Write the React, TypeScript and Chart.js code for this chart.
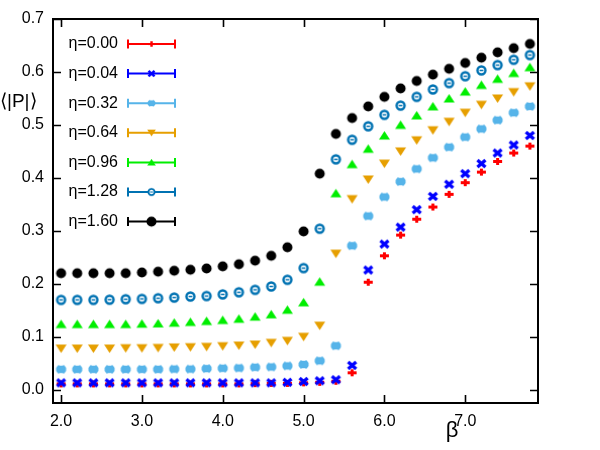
import React, { useEffect, useRef } from "react";
import { Chart, registerables } from "chart.js";

Chart.register(...registerables);

// Inverse temperature grid
const beta = [
  2.0, 2.2, 2.4, 2.6, 2.8, 3.0, 3.2, 3.4, 3.6, 3.8, 4.0, 4.2, 4.4, 4.6, 4.8,
  5.0, 5.2, 5.4, 5.6, 5.8, 6.0, 6.2, 6.4, 6.6, 6.8, 7.0, 7.2, 7.4, 7.6, 7.8,
];

// <|P|> for each eta
const eta000 = [
  0.011, 0.011, 0.011, 0.011, 0.011, 0.011, 0.011, 0.011, 0.011, 0.011, 0.011, 0.011, 0.0115, 0.012, 0.012,
  0.013, 0.014, 0.016, 0.032, 0.203, 0.253, 0.292, 0.322, 0.345, 0.369, 0.391, 0.411, 0.431, 0.447, 0.46,
];
const eta004 = [
  0.013, 0.013, 0.013, 0.013, 0.013, 0.013, 0.013, 0.013, 0.013, 0.013, 0.013, 0.013, 0.013, 0.013, 0.014,
  0.0155, 0.017, 0.019, 0.046, 0.226, 0.275, 0.307, 0.34, 0.365, 0.388, 0.408, 0.427, 0.447, 0.462, 0.48,
];
const eta032 = [
  0.0386, 0.0386, 0.0386, 0.0386, 0.0386, 0.0386, 0.0386, 0.039, 0.039, 0.04, 0.0405, 0.041, 0.0424, 0.043, 0.045,
  0.0478, 0.0547, 0.083, 0.272, 0.328, 0.364, 0.393, 0.417, 0.438, 0.458, 0.477, 0.4925, 0.509, 0.523, 0.535,
];
const eta064 = [
  0.0778, 0.0778, 0.0778, 0.0778, 0.0785, 0.0785, 0.079, 0.08, 0.0804, 0.081, 0.0823, 0.0835, 0.0854, 0.0886, 0.0924,
  0.1, 0.121, 0.257, 0.36, 0.397, 0.427, 0.45, 0.471, 0.49, 0.506, 0.523, 0.538, 0.55, 0.562, 0.573,
];
const eta096 = [
  0.124, 0.124, 0.124, 0.124, 0.124, 0.1247, 0.1253, 0.1266, 0.128, 0.1297, 0.1316, 0.134, 0.138, 0.1424, 0.151,
  0.165, 0.204, 0.371, 0.426, 0.455, 0.48, 0.5, 0.518, 0.535, 0.55, 0.563, 0.5755, 0.587, 0.598, 0.609,
];
const eta128 = [
  0.1696, 0.1696, 0.1696, 0.17, 0.171, 0.1715, 0.1728, 0.174, 0.176, 0.177, 0.18, 0.184, 0.1886, 0.195, 0.2076,
  0.2297, 0.304, 0.435, 0.472, 0.4975, 0.519, 0.5365, 0.553, 0.567, 0.579, 0.592, 0.603, 0.613, 0.623, 0.632,
];
const eta160 = [
  0.22, 0.22, 0.22, 0.22, 0.22, 0.2215, 0.223, 0.2247, 0.2266, 0.229, 0.233, 0.237, 0.2437, 0.253, 0.269,
  0.299, 0.408, 0.483, 0.513, 0.535, 0.553, 0.569, 0.583, 0.595, 0.606, 0.617, 0.627, 0.637, 0.645, 0.653,
];

const seriesLabels = ["η=0.00", "η=0.04", "η=0.32", "η=0.64", "η=0.96", "η=1.28", "η=1.60"];
const seriesValues = [eta000, eta004, eta032, eta064, eta096, eta128, eta160];
const seriesColors = ["#ff0000", "#0000ff", "#56b4e9", "#e69f00", "#00ee00", "#0072b2", "#000000"];
const seriesMarkers = ["plus", "cross", "star", "triDown", "triUp", "ring", "dot"];

const xTicks = [2, 3, 4, 5, 6, 7];
const yTicks = [0, 0.1, 0.2, 0.3, 0.4, 0.5, 0.6, 0.7];

const FONT = "'Liberation Sans', Arial, sans-serif";

function makeMarker(kind: string, color: string): HTMLCanvasElement {
  const c = document.createElement("canvas");
  c.width = 13;
  c.height = 13;
  const ctx = c.getContext("2d")!;
  ctx.strokeStyle = color;
  ctx.fillStyle = color;
  ctx.lineCap = "butt";
  const line = (x1: number, y1: number, x2: number, y2: number) => {
    ctx.beginPath();
    ctx.moveTo(x1, y1);
    ctx.lineTo(x2, y2);
    ctx.stroke();
  };
  switch (kind) {
    case "plus":
      ctx.lineWidth = 3;
      line(2, 6.5, 11, 6.5);
      line(6.5, 3, 6.5, 10);
      break;
    case "cross":
      ctx.lineWidth = 3.4;
      line(2.5, 3, 10.5, 10);
      line(2.5, 10, 10.5, 3);
      ctx.lineWidth = 2.5;
      line(4.5, 6.5, 8.5, 6.5);
      break;
    case "star":
      ctx.lineWidth = 3.4;
      line(1.5, 6.5, 11.5, 6.5);
      line(2.8, 3.3, 10.2, 9.7);
      line(2.8, 9.7, 10.2, 3.3);
      line(6.5, 2.8, 6.5, 10.2);
      ctx.beginPath();
      ctx.ellipse(6.5, 6.5, 4, 3, 0, 0, Math.PI * 2);
      ctx.fill();
      break;
    case "triDown":
      ctx.beginPath();
      ctx.moveTo(1, 2.5);
      ctx.lineTo(12, 2.5);
      ctx.lineTo(6.5, 11);
      ctx.closePath();
      ctx.fill();
      break;
    case "triUp":
      ctx.beginPath();
      ctx.moveTo(1, 10.5);
      ctx.lineTo(12, 10.5);
      ctx.lineTo(6.5, 2);
      ctx.closePath();
      ctx.fill();
      break;
    case "ring":
      ctx.fillStyle = "#ffffff";
      ctx.lineWidth = 2.4;
      ctx.beginPath();
      ctx.arc(6.5, 6.5, 4, 0, Math.PI * 2);
      ctx.fill();
      ctx.stroke();
      ctx.lineWidth = 1.5;
      line(4.6, 6.5, 8.4, 6.5);
      break;
    default:
      ctx.beginPath();
      ctx.arc(6.5, 6.5, 5, 0, Math.PI * 2);
      ctx.fill();
  }
  return c;
}

export default function App() {
  const canvasRef = useRef<HTMLCanvasElement | null>(null);

  useEffect(() => {
    const canvas = canvasRef.current;
    if (!canvas) return;
    const markers = seriesMarkers.map((m, i) => makeMarker(m, seriesColors[i]));

    const frame = {
      id: "frameAndLabels",
      afterDraw(chart: any) {
        const ctx = chart.ctx as CanvasRenderingContext2D;
        const { left, right, top, bottom } = chart.chartArea;
        const xs = chart.scales.x;
        const ys = chart.scales.y;
        ctx.save();
        ctx.strokeStyle = "#000";
        ctx.lineWidth = 2;
        ctx.strokeRect(left, top, right - left, bottom - top);
        ctx.lineWidth = 1.6;
        const tl = 8;
        ctx.beginPath();
        for (const v of xTicks) {
          const px = Math.round(xs.getPixelForValue(v)) + 0.5;
          ctx.moveTo(px, bottom);
          ctx.lineTo(px, bottom - tl);
          ctx.moveTo(px, top);
          ctx.lineTo(px, top + tl);
        }
        for (const v of yTicks) {
          const py = Math.round(ys.getPixelForValue(v)) + 0.5;
          ctx.moveTo(left, py);
          ctx.lineTo(left + tl, py);
          ctx.moveTo(right, py);
          ctx.lineTo(right - tl, py);
        }
        ctx.stroke();

        // axis titles
        ctx.fillStyle = "#000";
        ctx.textBaseline = "middle";
        ctx.textAlign = "left";
        ctx.font = `19px ${FONT}`;
        ctx.fillText("⟨|P|⟩", 0, 102);
        ctx.textAlign = "center";
        ctx.font = `22px ${FONT}`;
        ctx.fillText("β", 452, 431);

        // key
        ctx.font = `16px ${FONT}`;
        ctx.textAlign = "right";
        seriesLabels.forEach((lab, i) => {
          const y = 44 + i * 29.6;
          ctx.fillStyle = "#000";
          ctx.fillText(lab, 118, y);
          const col = seriesColors[i];
          ctx.strokeStyle = col;
          ctx.lineWidth = 2;
          ctx.beginPath();
          ctx.moveTo(128, y);
          ctx.lineTo(175, y);
          ctx.moveTo(128, y - 4.5);
          ctx.lineTo(128, y + 4.5);
          ctx.moveTo(175, y - 4.5);
          ctx.lineTo(175, y + 4.5);
          ctx.stroke();
          const s = seriesMarkers[i] === "dot" ? 13 : 10;
          ctx.drawImage(markers[i], 151.5 - s / 2, y - s / 2, s, s);
        });
        ctx.restore();
      },
    };

    const chart = new Chart(canvas, {
      type: "scatter",
      data: {
        datasets: seriesValues.map((vals, i) => ({
          label: seriesLabels[i],
          data: vals.map((v, j) => ({ x: beta[j], y: v })),
          pointStyle: markers[i] as any,
          pointRadius: 5,
          borderColor: seriesColors[i],
          backgroundColor: seriesColors[i],
          order: seriesValues.length - i,
        })),
      },
      options: {
        animation: false,
        responsive: true,
        maintainAspectRatio: false,
        layout: { padding: { top: 19, right: 62, left: 0, bottom: 0 } },
        plugins: { legend: { display: false }, tooltip: { enabled: false } },
        scales: {
          x: {
            type: "linear",
            min: 1.9,
            max: 7.9,
            afterBuildTicks: (scale: any) => {
              scale.ticks = xTicks.map((v) => ({ value: v }));
            },
            afterFit: (scale: any) => {
              scale.height = 47;
            },
            grid: { display: false, drawTicks: false },
            border: { display: false },
            ticks: {
              padding: 9,
              color: "#000",
              font: { family: FONT, size: 16 },
              maxRotation: 0,
              callback: (v: any) => Number(v).toFixed(1),
            },
          },
          y: {
            type: "linear",
            min: -0.025,
            max: 0.7,
            afterBuildTicks: (scale: any) => {
              scale.ticks = yTicks.map((v) => ({ value: v }));
            },
            afterFit: (scale: any) => {
              scale.width = 53;
            },
            grid: { display: false, drawTicks: false },
            border: { display: false },
            ticks: {
              padding: 9,
              color: "#000",
              font: { family: FONT, size: 16 },
              callback: (v: any) => Number(v).toFixed(1),
            },
          },
        },
      },
      plugins: [frame],
    });
    return () => chart.destroy();
  }, []);

  return (
    <div style={{ position: "absolute", left: 0, top: 0, width: 600, height: 450, background: "#fff" }}>
      <canvas ref={canvasRef} />
    </div>
  );
}
